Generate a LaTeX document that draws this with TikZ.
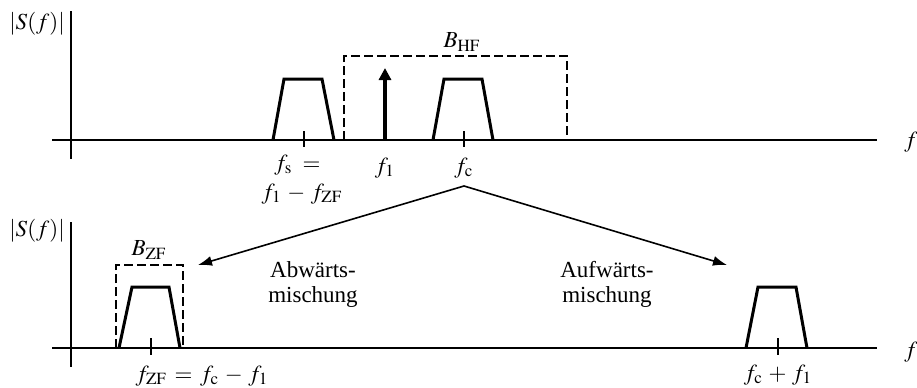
\documentclass[tikz,border=0pt]{standalone}
\usepackage{mathptmx}
\usepackage{fontspec}
\setmainfont{Liberation Serif}
\usetikzlibrary{arrows.meta}

\begin{document}
\begin{tikzpicture}[x=0.5pt, y=-0.5pt, font=\fontsize{11.5}{12.5}\selectfont,
  axis/.style={line width=0.6pt},
  spectrum/.style={line width=1.5pt, line join=miter},
  band/.style={line width=1.1pt, dash pattern=on 4.5pt off 2pt},
  mix/.style={line width=0.8pt, -{Latex[length=7pt, width=5pt]}},
  lbl/.style={inner sep=0pt, align=center}]
  \useasboundingbox (0,0) rectangle (917,387);

  % HF spectrum (top)
  \draw[axis] (52,140) -- (877,140);
  \draw[axis] (71,11) -- (71,159);
  \node[lbl] (magTop) at (37,24) {$|S(f)|$};
  \node[lbl] (fTop) at (911,142) {$f$};

  % Spiegelfrequenz and Nutzband
  \draw[spectrum] (273,140) -- (284,79) -- (322,79) -- (334,140);
  \draw[spectrum] (433,140) -- (444,79) -- (482,79) -- (493,140);
  \draw[axis] (304,131) -- (304,147);
  \draw[axis] (464,131) -- (464,147);

  % Oszillator
  \coordinate (loBase) at (385,140);
  \coordinate (loTop) at (385,68);
  \draw[line width=1.6pt, -{Triangle[length=6pt, width=6pt]}] (loBase) -- (loTop);

  % HF Bandbreite
  \draw[band] (344,140) -- (344,56) -- (567,56) -- (567,140);
  \node[lbl] (bHF) at (462,42) {$B_{\mathrm{HF}}$};

  % Frequenzen
  \node[lbl] (fsLbl) at (300,165) {$f_{\mathrm{s}} \;={}$};
  \node[lbl] (fsDef) at (302,194) {$f_1 \,-\, f_{\mathrm{ZF}}$};
  \node[lbl] (f1Lbl) at (385,168) {$f_1$};
  \node[lbl] (fcLbl) at (464,168) {$f_{\mathrm{c}}$};

  % ZF spectrum (bottom)
  \draw[axis] (52,348) -- (877,348);
  \draw[axis] (71,222) -- (71,367);
  \node[lbl] (magBot) at (37,231) {$|S(f)|$};
  \node[lbl] (fBot) at (911,352) {$f$};

  \draw[spectrum] (119,348) -- (132,287) -- (169,287) -- (180,348);
  \draw[spectrum] (746,348) -- (758,287) -- (796,287) -- (807,348);
  \draw[axis] (151,338) -- (151,355);
  \draw[axis] (778,338) -- (778,355);

  \draw[band] (116,348) -- (116,265) -- (183,265) -- (183,348);
  \node[lbl] (bZF) at (149,250) {$B_{\mathrm{ZF}}$};

  \node[lbl] (fzfLbl) at (202,376) {$f_{\mathrm{ZF}} \,=\, f_{\mathrm{c}} \,-\, f_1$};
  \node[lbl] (fsumLbl) at (778,375) {$f_{\mathrm{c}} \,+\, f_1$};

  % Mischung
  \coordinate (apex) at (464,186);
  \coordinate (downTip) at (198,265);
  \coordinate (upTip) at (727,265);
  \draw[mix] (apex) -- (downTip);
  \draw[mix] (apex) -- (upTip);
  \node[lbl] (down) at (313,284) {Abwärts-\\mischung};
  \node[lbl] (up) at (607,284) {Aufwärts-\\mischung};

\end{tikzpicture}
\end{document}
